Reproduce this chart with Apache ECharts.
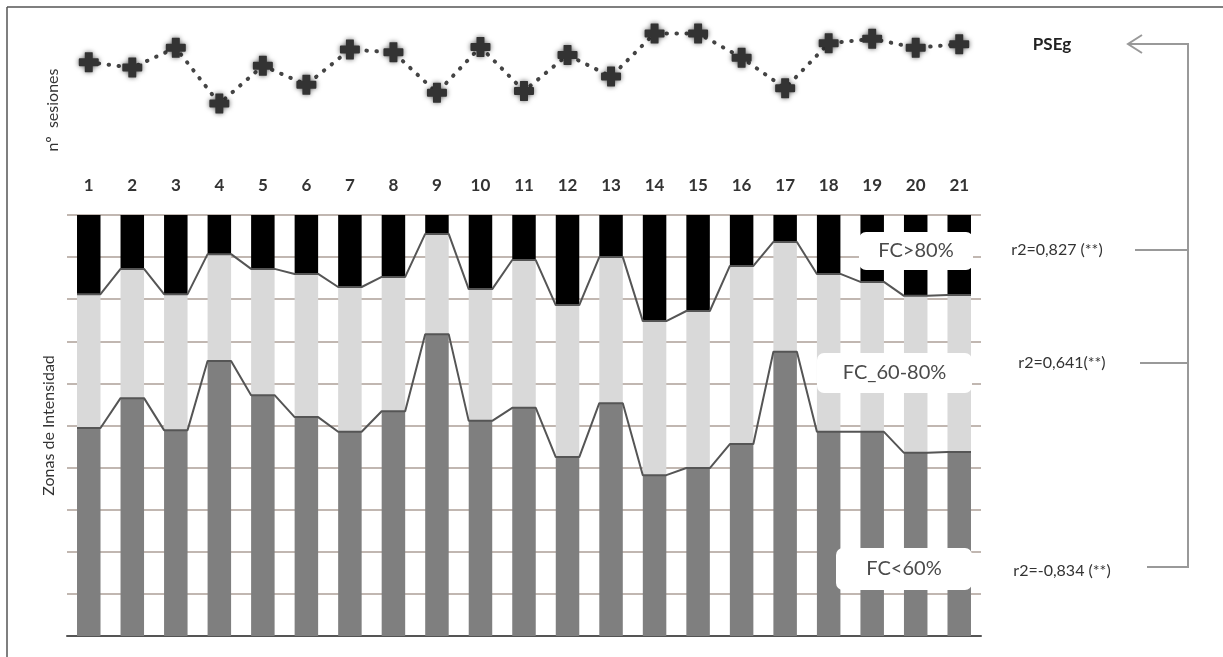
<!DOCTYPE html>
<html>
<head>
<meta charset="utf-8">
<script src="https://cdn.jsdelivr.net/npm/echarts@6/dist/echarts.min.js"></script>
<style>html,body{margin:0;padding:0;background:#fff;}#c{width:1223px;height:657px;}</style>
</head>
<body>
<div id="c"></div>
<script>
// ---- data ----
const categories = ['1','2','3','4','5','6','7','8','9','10','11','12','13','14','15','16','17','18','19','20','21'];
const pseg = [6.2,5.6,7.8,1.6,5.8,3.7,7.6,7.3,2.8,7.9,3.0,7.0,4.6,9.4,9.4,6.7,3.3,8.3,8.8,7.8,8.2];
const fcLow  = [49.4,56.5,48.9,65.3,57.2,52.0,48.5,53.4,71.7,51.1,54.2,42.5,55.3,38.2,39.9,45.6,67.5,48.5,48.5,43.5,43.7];
const fcMid  = [31.8,30.7,32.3,25.4,30.0,34.0,34.4,31.9,23.8,31.3,35.1,36.1,34.7,36.6,37.3,42.3,26.1,37.5,35.6,37.3,37.3];
const fcHigh = [18.8,12.8,18.8,9.3,12.8,14.0,17.1,14.7,4.5,17.6,10.7,21.4,10.0,25.2,22.8,12.1,6.4,14.0,15.9,19.2,19.0];
const zoneLabels = ['FC>80%','FC_60-80%','FC<60%'];
const r2Labels = ['r2=0,827 (**)','r2=0,641(**)','r2=-0,834 (**)'];

// ---- derived ----
const BAR_FRAC = 0.54;
const HALF = BAR_FRAC / 2;
const cumMid = fcLow.map((v, i) => v + fcMid[i]);
function edges(vals) {
  const pts = [];
  vals.forEach((v, i) => { pts.push([i - HALF, v]); pts.push([i + HALF, v]); });
  return pts;
}

const FONT = 'Lato, "Open Sans", sans-serif';
const chart = echarts.init(document.getElementById('c'));
const plus = 'path://M3.2,0 H6.8 Q7,0 7,0.5 V3 H9.5 Q10,3 10,3.5 V6.5 Q10,7 9.5,7 H7 V9.5 Q7,10 6.8,10 H3.2 Q3,10 3,9.5 V7 H0.5 Q0,7 0,6.5 V3.5 Q0,3 0.5,3 H3 V0.5 Q3,0 3.2,0 Z';

function zoneBox(x, y, w, h, text) {
  return [
    { type: 'rect', z: 100, shape: { x: x, y: y, width: w, height: h, r: 7 }, style: { fill: '#ffffff' } },
    { type: 'text', z: 101, x: x + w / 2, y: y + h / 2, style: { text: text, font: '20px ' + FONT, fill: '#4a4a4a', align: 'center', verticalAlign: 'middle' } }
  ];
}
const lineStyle = { stroke: '#999', lineWidth: 2 };

chart.setOption({
  animation: false,
  backgroundColor: '#fff',
  grid: [
    { left: 67, right: 242, top: 28, height: 90 },
    { left: 67, right: 242, top: 215, bottom: 21 }
  ],
  xAxis: [
    { type: 'category', gridIndex: 0, data: categories, axisLine: { show: false }, axisTick: { show: false }, axisLabel: { show: false } },
    { type: 'category', gridIndex: 1, data: categories, position: 'top',
      axisLine: { show: false }, axisTick: { show: false },
      axisLabel: { margin: 21, fontSize: 17, fontWeight: 'bold', color: '#333', fontFamily: FONT } },
    { type: 'value', gridIndex: 1, min: -0.5, max: 20.5, position: 'bottom', z: 0,
      axisLine: { show: true, lineStyle: { color: '#555', width: 2 } }, axisTick: { show: false },
      axisLabel: { show: false }, splitLine: { show: false } }
  ],
  yAxis: [
    { type: 'value', gridIndex: 0, min: 0, max: 10, show: false },
    { type: 'value', gridIndex: 1, min: 0, max: 100, interval: 10,
      name: 'Zonas de Intensidad', nameLocation: 'middle', nameGap: 10,
      nameTextStyle: { fontSize: 16, color: '#333', fontFamily: FONT },
      axisLine: { show: false }, axisTick: { show: false }, axisLabel: { show: false },
      splitLine: { show: true, lineStyle: { color: '#ad9f97', width: 1.5 } } }
  ],
  series: [
    { name: 'PSEg', type: 'line', xAxisIndex: 0, yAxisIndex: 0, data: pseg,
      symbol: plus, symbolSize: 20,
      itemStyle: { color: '#333', shadowBlur: 5, shadowColor: 'rgba(0,0,0,0.6)' },
      lineStyle: { color: '#444', width: 4, type: [0.5, 9.5], cap: 'round' } },
    { name: 'FC<60%', type: 'bar', xAxisIndex: 1, yAxisIndex: 1, stack: 'z', data: fcLow, barWidth: (BAR_FRAC * 100) + '%', itemStyle: { color: '#7f7f7f' } },
    { name: 'FC_60-80%', type: 'bar', xAxisIndex: 1, yAxisIndex: 1, stack: 'z', data: fcMid, barWidth: (BAR_FRAC * 100) + '%', itemStyle: { color: '#d9d9d9' } },
    { name: 'FC>80%', type: 'bar', xAxisIndex: 1, yAxisIndex: 1, stack: 'z', data: fcHigh, barWidth: (BAR_FRAC * 100) + '%', itemStyle: { color: '#000' } },
    { type: 'line', xAxisIndex: 2, yAxisIndex: 1, data: edges(fcLow), symbol: 'none', z: 5,
      lineStyle: { color: '#555', width: 2 } },
    { type: 'line', xAxisIndex: 2, yAxisIndex: 1, data: edges(cumMid), symbol: 'none', z: 5,
      lineStyle: { color: '#555', width: 2 } }
  ],
  graphic: [
    // frame
    { type: 'line', shape: { x1: 7, y1: 7, x2: 1223, y2: 7 }, style: { stroke: '#555', lineWidth: 1.5 } },
    { type: 'line', shape: { x1: 7, y1: 7, x2: 7, y2: 657 }, style: { stroke: '#555', lineWidth: 1.5 } },
    // top y name
    { type: 'text', x: 53, y: 110, rotation: Math.PI / 2,
      style: { text: 'nº  sesiones', font: '16px ' + FONT, fill: '#333', align: 'center', verticalAlign: 'middle' } },
    // zone boxes
    ...zoneBox(859, 232, 114, 38, zoneLabels[0]),
    ...zoneBox(817, 353, 155, 40, zoneLabels[1]),
    ...zoneBox(836, 548, 136, 42, zoneLabels[2]),
    // right texts
    { type: 'text', x: 1052, y: 45, style: { text: 'PSEg', font: 'bold 17px ' + FONT, fill: '#222', align: 'center', verticalAlign: 'middle' } },
    { type: 'text', x: 1057, y: 250, style: { text: r2Labels[0], font: '16px ' + FONT, fill: '#333', align: 'center', verticalAlign: 'middle' } },
    { type: 'text', x: 1062, y: 363, style: { text: r2Labels[1], font: '16px ' + FONT, fill: '#333', align: 'center', verticalAlign: 'middle' } },
    { type: 'text', x: 1062, y: 571, style: { text: r2Labels[2], font: '16px ' + FONT, fill: '#333', align: 'center', verticalAlign: 'middle' } },
    // bracket
    { type: 'polyline', shape: { points: [[1128, 44], [1188, 44], [1188, 567], [1147, 567]] }, style: Object.assign({ fill: null }, lineStyle) },
    { type: 'polyline', shape: { points: [[1142, 35], [1128, 44], [1142, 53]] }, style: Object.assign({ fill: null }, lineStyle) },
    { type: 'line', shape: { x1: 1135, y1: 250, x2: 1188, y2: 250 }, style: lineStyle },
    { type: 'line', shape: { x1: 1140, y1: 363, x2: 1188, y2: 363 }, style: lineStyle }
  ]
});
</script>
</body>
</html>
